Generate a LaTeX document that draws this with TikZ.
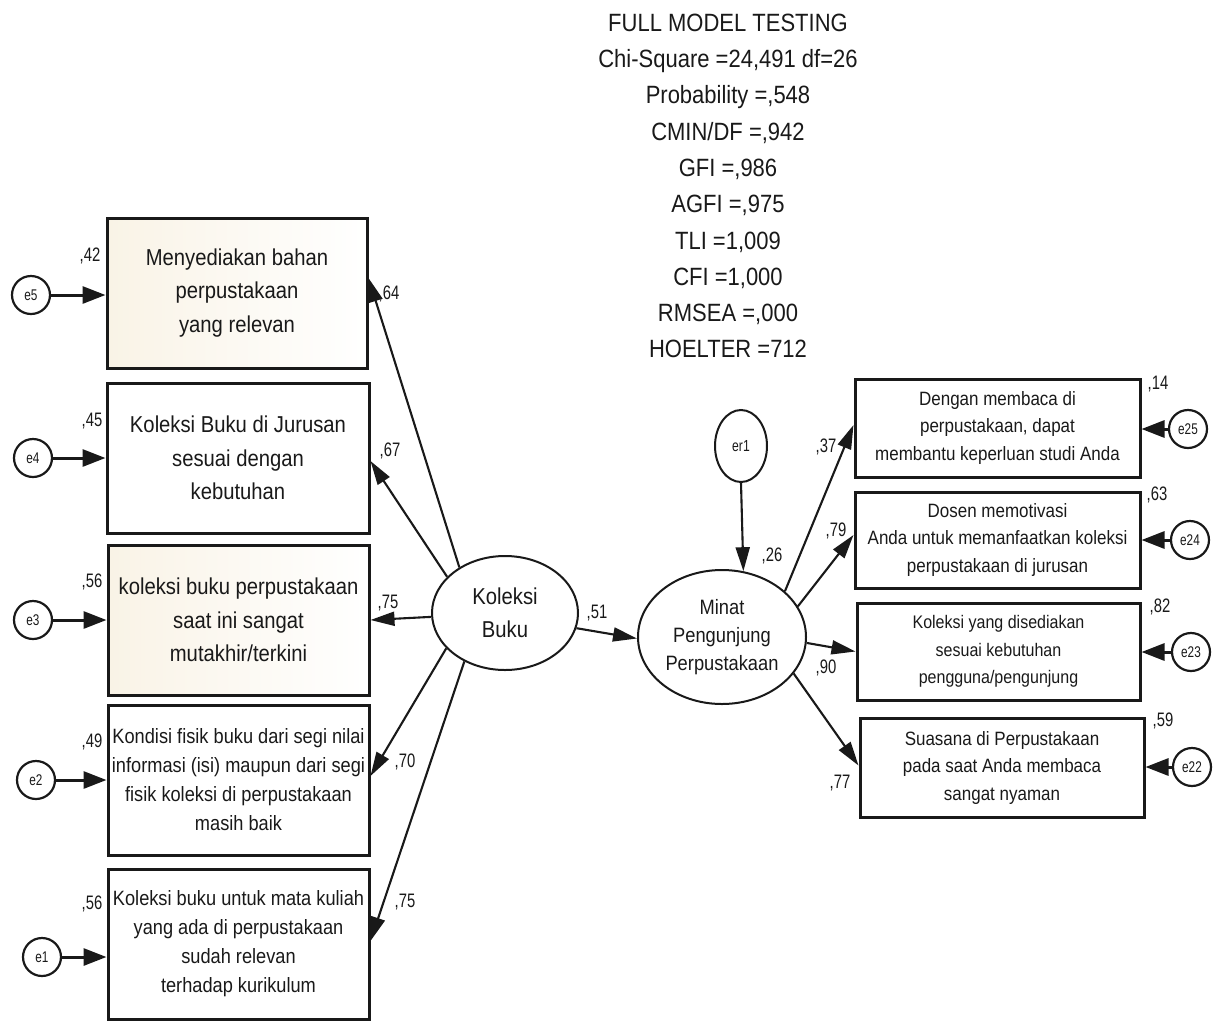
\documentclass[tikz,border=0pt]{standalone}
\usepackage{fontspec}
\setmainfont{Liberation Sans}[FakeStretch=0.88]
\newfontfamily\lblfont{Liberation Sans}[FakeStretch=0.76]
\usetikzlibrary{arrows.meta,calc,shapes.geometric}
\definecolor{beigeA}{RGB}{249,243,230}
\definecolor{ink}{RGB}{25,25,25}
\begin{document}
\begin{tikzpicture}[x=1pt,y=-1pt, every node/.style={text=ink},
  box/.style={draw=ink, line width=3pt, align=center, inner sep=2pt},
  beigebox/.style={left color=beigeA, right color=white},
  err/.style={draw=ink, circle, line width=2.2pt, minimum size=38pt, inner sep=0pt, font=\lblfont\fontsize{15.5}{15.5}\selectfont},
  lat/.style={draw=ink, ellipse, line width=2pt, align=center, inner sep=0pt},
  lpath/.style={draw=ink, line width=2.1pt, -{Triangle[length=24pt,width=14pt]}},
  epath/.style={draw=ink, line width=3pt, -{Triangle[length=23pt,width=17pt]}},
  coef/.style={font=\lblfont\fontsize{19.5}{19.5}\selectfont, inner sep=0pt},
  fbig/.style={font=\fontsize{23}{33.5}\selectfont},
  fmid/.style={font=\fontsize{20.7}{29}\selectfont},
  fsml/.style={font=\fontsize{19.3}{27.5}\selectfont},
  fsmb/.style={font=\fontsize{18.2}{27.5}\selectfont},
]
\useasboundingbox (0,0) rectangle (1216,1021);

% title
\node[align=center, font=\fontsize{25}{36.3}\selectfont] (title) at (728,186)
 {FULL MODEL TESTING\\Chi-Square =24,491 df=26\\Probability =,548\\CMIN/DF =,942\\GFI =,986\\AGFI =,975\\TLI =1,009\\CFI =1,000\\RMSEA =,000\\HOELTER =712};

% left indicator boxes
\node[box, beigebox, fbig, minimum width=260pt, minimum height=150pt] (b1) at (237,293) {Menyediakan bahan\\perpustakaan\\yang relevan};
\node[box, fbig, minimum width=262pt, minimum height=150pt] (b2) at (238,458) {Koleksi Buku di Jurusan\\sesuai dengan\\kebutuhan};
\node[box, beigebox, fbig, minimum width=261pt, minimum height=150pt] (b3) at (238.5,620) {koleksi buku perpustakaan\\saat ini sangat\\mutakhir/terkini};
\node[box, fmid, minimum width=261pt, minimum height=150pt] (b4) at (238.5,780) {Kondisi fisik buku dari segi nilai\\informasi (isi) maupun dari segi\\fisik koleksi di perpustakaan\\masih baik};
\node[box, fmid, minimum width=261pt, minimum height=150pt] (b5) at (238.5,944) {Koleksi buku untuk mata kuliah\\yang ada di perpustakaan\\sudah relevan\\terhadap kurikulum};

% left error terms
\node[err] (e5) at (31,295) {e5};
\node[err] (e4) at (33,458) {e4};
\node[err] (e3) at (33,620) {e3};
\node[err] (e2) at (36,780) {e2};
\node[err] (e1) at (42,957) {e1};

% latent variables
\node[lat, minimum width=146pt, minimum height=114pt, font=\fontsize{23}{33}\selectfont] (kb) at (505,613) {Koleksi\\Buku};
\node[lat, minimum width=168pt, minimum height=134pt, font=\fontsize{20.8}{28}\selectfont] (mp) at (722,637) {Minat\\Pengunjung\\Perpustakaan};
\node[draw=ink, ellipse, line width=2pt, minimum width=52pt, minimum height=72pt, inner sep=0pt, font=\lblfont\fontsize{16}{16}\selectfont] (er1) at (741,446) {er1};

% right indicator boxes
\node[box, fsml, minimum width=285pt, minimum height=98pt] (r1) at (997.5,428) {Dengan membaca di\\perpustakaan, dapat\\membantu keperluan studi Anda};
\node[box, fsml, minimum width=285pt, minimum height=96pt] (r2) at (997.5,540) {Dosen memotivasi\\Anda untuk memanfaatkan koleksi\\perpustakaan di jurusan};
\node[box, fsmb, minimum width=283pt, minimum height=97pt] (r3) at (998.5,651.5) {Koleksi yang disediakan\\sesuai kebutuhan\\pengguna/pengunjung};
\node[box, fsml, minimum width=284pt, minimum height=99pt] (r4) at (1002,767.5) {Suasana di Perpustakaan\\pada saat Anda membaca\\sangat nyaman};

% right error terms
\node[err] (e25) at (1188,429) {e25};
\node[err] (e24) at (1190,540) {e24};
\node[err] (e23) at (1191,652) {e23};
\node[err] (e22) at (1192,767) {e22};

% error arrows (left)
\draw[epath] (e5.east) -- (e5.east -| b1.west);
\draw[epath] (e4.east) -- (e4.east -| b2.west);
\draw[epath] (e3.east) -- (e3.east -| b3.west);
\draw[epath] (e2.east) -- (e2.east -| b4.west);
\draw[epath] (e1.east) -- (e1.east -| b5.west);

% error arrows (right)
\draw[epath] (e25.west) -- (e25.west -| r1.east);
\draw[epath] (e24.west) -- (e24.west -| r2.east);
\draw[epath] (e23.west) -- (e23.west -| r3.east);
\draw[epath] (e22.west) -- (e22.west -| r4.east);

% loadings of Koleksi Buku
\draw[lpath] (kb.135) -- ($(b1.east)+(0,-15)$);
\draw[lpath] (kb.148.5) -- ($(b2.east)+(0,3)$);
\draw[lpath] (kb.183) -- (b3.east);
\draw[lpath] (kb.211.7) -- ($(b4.east)+(0,-4)$);
\draw[lpath] (kb.230.7) -- ($(b5.east)+(0,-3)$);

% structural path
\draw[lpath] (kb.-12) -- (mp.181);
\draw[lpath] (er1.south) -- (mp.72);

% loadings of Minat
\draw[lpath] (mp.36.7) -- ($(r1.west)+(0,-3)$);
\draw[lpath] (mp.22.8) -- ($(r2.west)+(0,-5)$);
\draw[lpath] (mp.-4) -- (r3.west);
\draw[lpath] (mp.-27.5) -- ($(r4.west)+(0,-2)$);

% coefficients
\node[coef] (c42) at (90,256) {,42};
\node[coef] (c64) at (389,294) {,64};
\node[coef] (c45) at (92,421) {,45};
\node[coef] (c67) at (390,451) {,67};
\node[coef] (c56a) at (92,582) {,56};
\node[coef] (c75a) at (388,603) {,75};
\node[coef] (c49) at (92,742) {,49};
\node[coef] (c70) at (405,762) {,70};
\node[coef] (c56b) at (92,904) {,56};
\node[coef] (c75b) at (405,902) {,75};
\node[coef] (c51) at (597,613) {,51};
\node[coef] (c26) at (772,556) {,26};
\node[coef] (c37) at (826,447) {,37};
\node[coef] (c79) at (836,531) {,79};
\node[coef] (c90) at (826,668) {,90};
\node[coef] (c77) at (840,783) {,77};
\node[coef] (c14) at (1158,384) {,14};
\node[coef] (c63) at (1157,495) {,63};
\node[coef] (c82) at (1160,607) {,82};
\node[coef] (c59) at (1163,721) {,59};
\end{tikzpicture}
\end{document}
